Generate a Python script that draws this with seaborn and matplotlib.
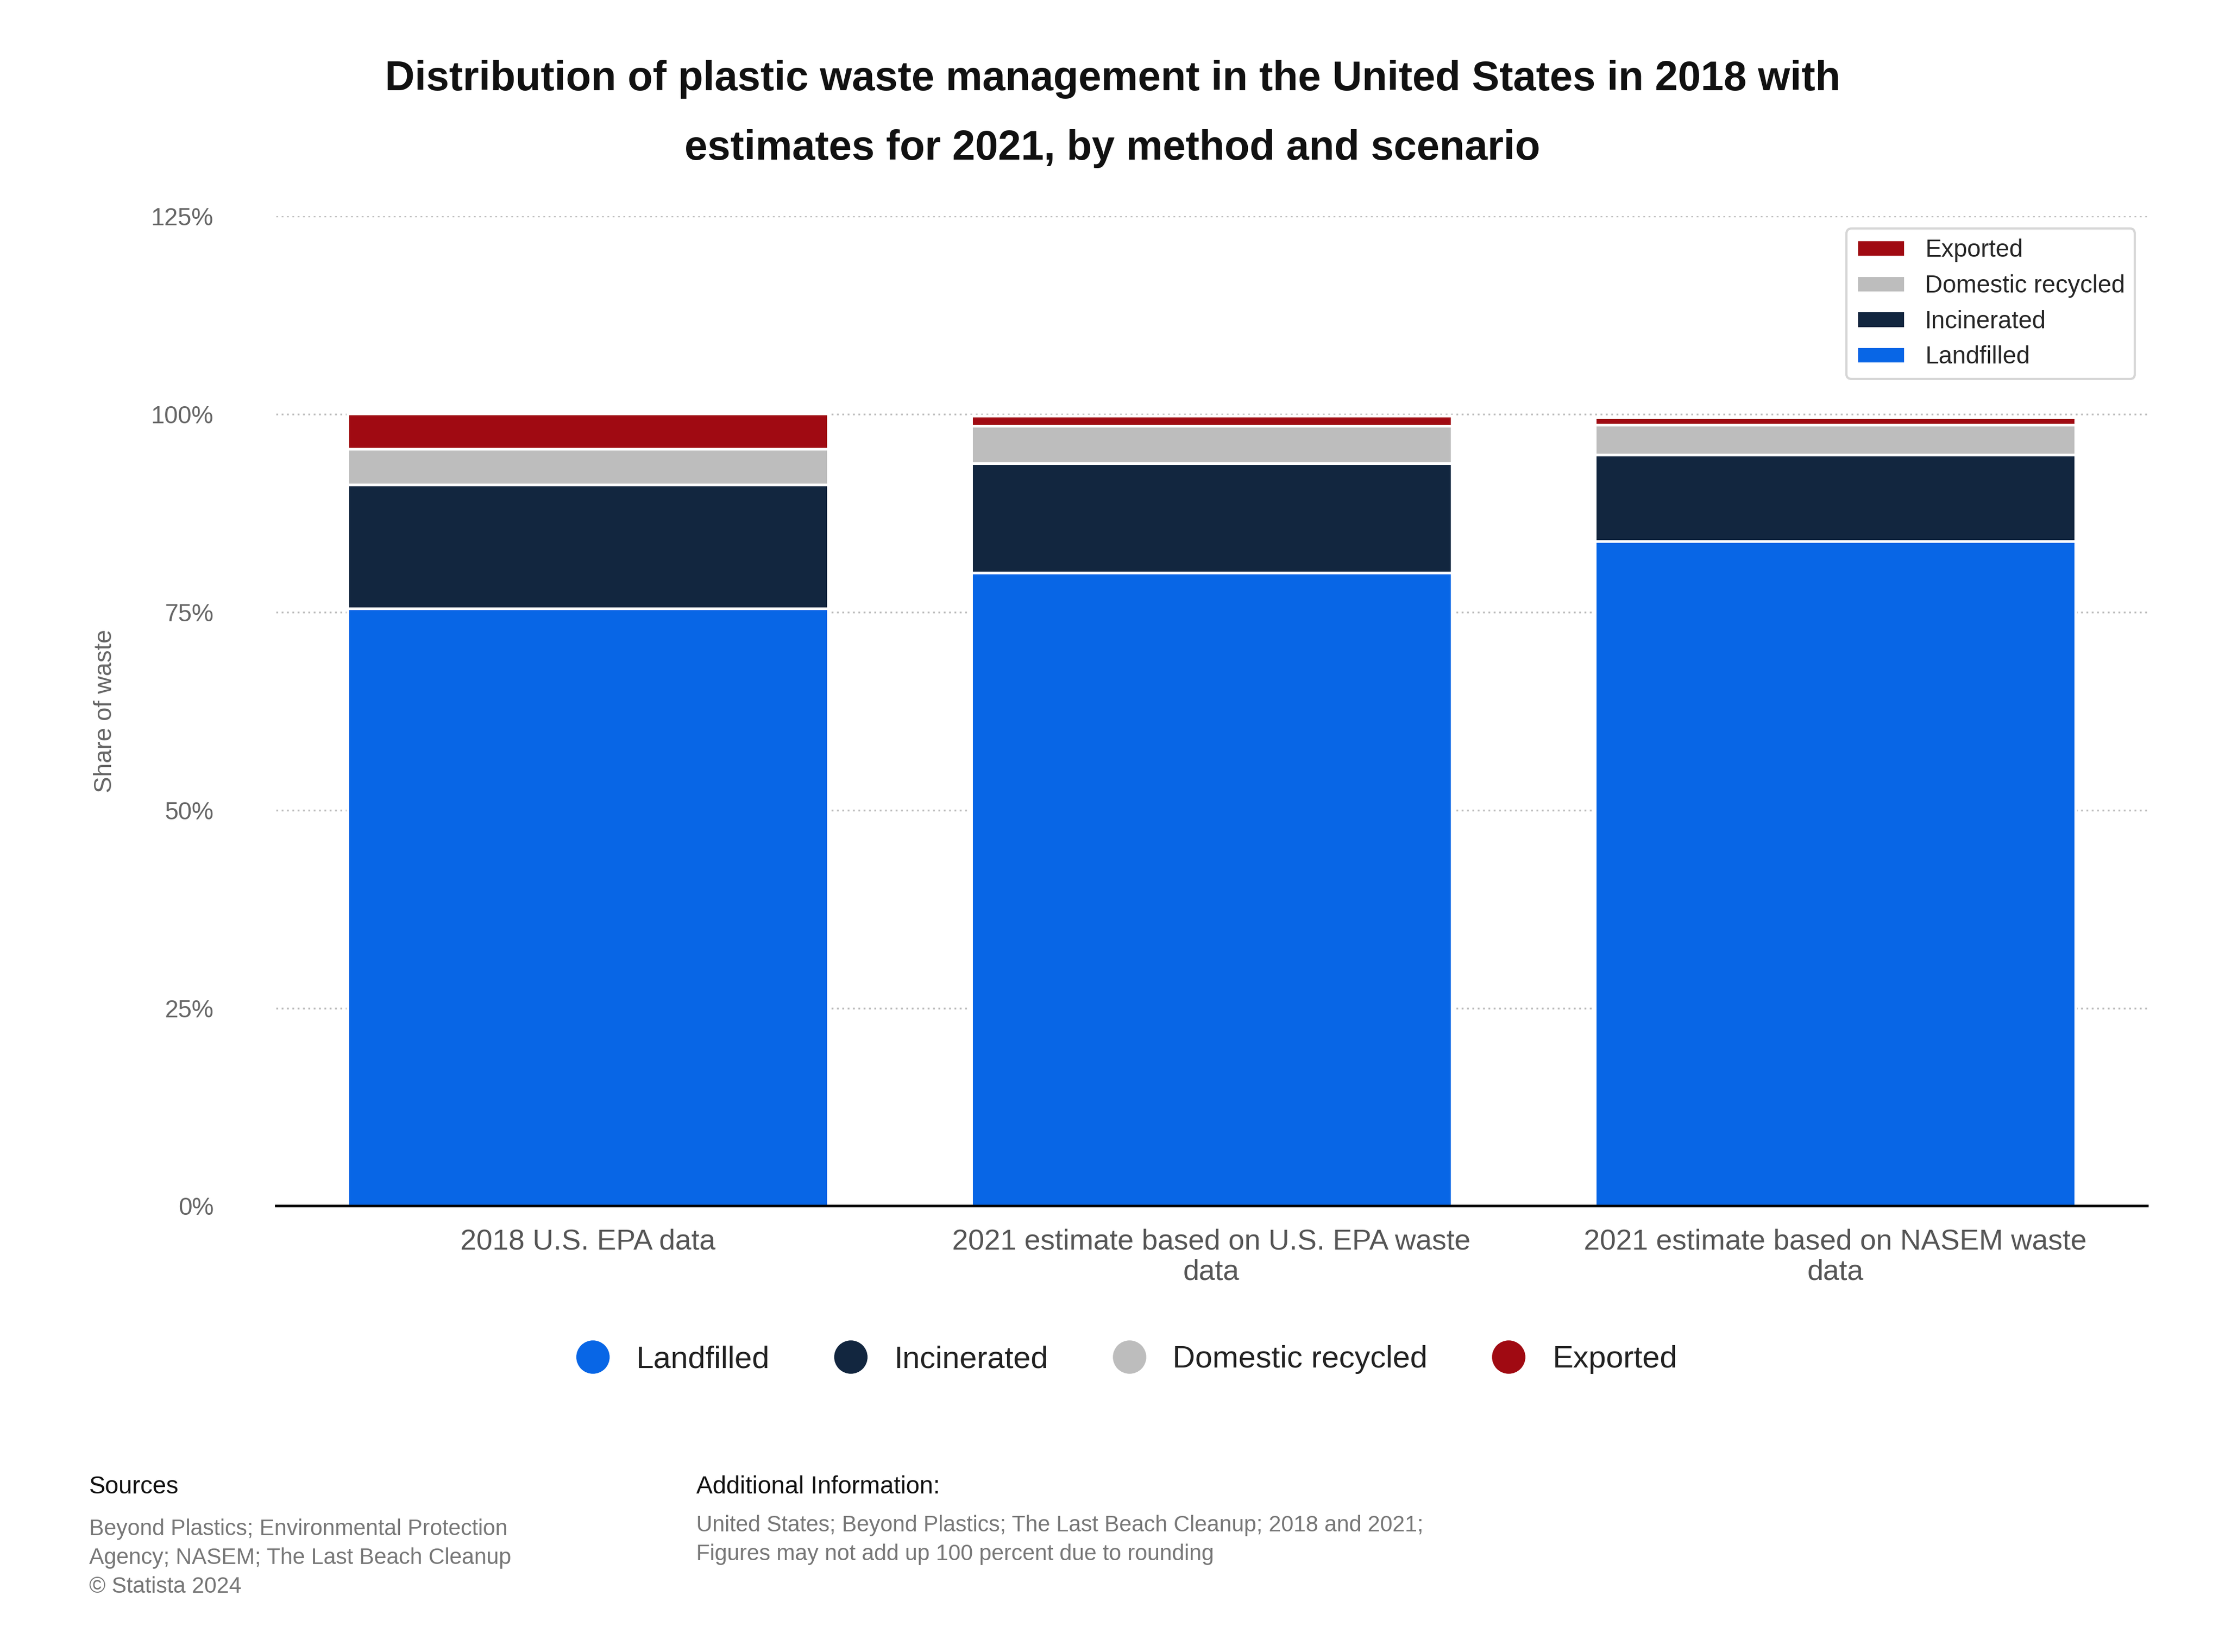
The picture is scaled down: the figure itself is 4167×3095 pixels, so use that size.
import matplotlib.pyplot as plt
import seaborn as sns
import pandas as pd
import numpy as np

categories = ["2018 U.S. EPA data",
              "2021 estimate based on U.S. EPA waste\ndata",
              "2021 estimate based on NASEM waste\ndata"]
series = ["Landfilled", "Incinerated", "Domestic recycled", "Exported"]
landfilled = [75.5, 80.0, 84.0]
incinerated = [15.6, 13.8, 10.9]
recycled = [4.5, 4.7, 3.8]
exported = [4.5, 1.3, 0.9]
colors = ["#0866e6", "#12263f", "#bdbdbd", "#a00a12"]
yticks = [0, 25, 50, 75, 100, 125]

sns.set_theme(style="white")
plt.rcParams['font.family'] = ['Liberation Sans', 'DejaVu Sans']

fig = plt.figure(figsize=(4167 / 300, 3095 / 300), dpi=300)
ax = fig.add_axes([0.124, 0.270, 0.841, 0.599])

vals = np.array([landfilled, incinerated, recycled, exported])
cum = vals.cumsum(axis=0)
# draw from top segment down so each lower bar covers the upper part
for i in range(len(series) - 1, -1, -1):
    df = pd.DataFrame({"cat": categories, "v": cum[i]})
    sns.barplot(data=df, x="cat", y="v", color=colors[i], width=0.77,
                edgecolor="white", linewidth=1.2, ax=ax, saturation=1, label=series[i])

ax.set_ylim(0, 125)
ax.set_xlim(-0.5, 2.5)
ax.set_yticks(yticks)
ax.set_yticklabels([f"{t}%" for t in yticks], fontsize=11, color="#666666")
ax.tick_params(axis="x", labelsize=13, labelcolor="#555555", length=0, pad=10)
ax.tick_params(axis="y", length=0, pad=28)
ax.yaxis.grid(True, linestyle=(0, (1, 2)), color="#bbbbbb", linewidth=0.8)
ax.set_axisbelow(True)
for s in ["top", "right", "left"]:
    ax.spines[s].set_visible(False)
ax.spines["bottom"].set_color("black")
ax.spines["bottom"].set_linewidth(1.2)
ax.set_xlabel("")
ax.set_ylabel("Share of waste", fontsize=11, color="#666666", labelpad=2)
ax.yaxis.set_label_coords(-0.085, 0.5)

handles = [plt.Line2D([], [], marker="o", linestyle="", markersize=14,
                      markerfacecolor=c, markeredgecolor=c) for c in colors]
fig.legend(handles, series, loc="center", bbox_to_anchor=(0.503, 0.177), ncol=4,
           frameon=False, fontsize=14, handletextpad=0.4, columnspacing=1.6,
           labelcolor="#222222")

fig.text(0.5, 0.952, "Distribution of plastic waste management in the United States in 2018 with",
         ha="center", va="center", fontsize=18.5, fontweight="bold", color="#111111")
fig.text(0.5, 0.910, "estimates for 2021, by method and scenario",
         ha="center", va="center", fontsize=18.5, fontweight="bold", color="#111111")

fig.text(0.040, 0.100, "Sources", fontsize=11, color="#111111", va="center")
fig.text(0.040, 0.057, "Beyond Plastics; Environmental Protection\nAgency; NASEM; The Last Beach Cleanup\n© Statista 2024",
         fontsize=10, color="#777777", va="center", linespacing=1.45)
fig.text(0.313, 0.100, "Additional Information:", fontsize=11, color="#111111", va="center")
fig.text(0.313, 0.068, "United States; Beyond Plastics; The Last Beach Cleanup; 2018 and 2021;\nFigures may not add up 100 percent due to rounding",
         fontsize=10, color="#777777", va="center", linespacing=1.45)

fig.savefig("out.png", dpi=300, facecolor="white")
